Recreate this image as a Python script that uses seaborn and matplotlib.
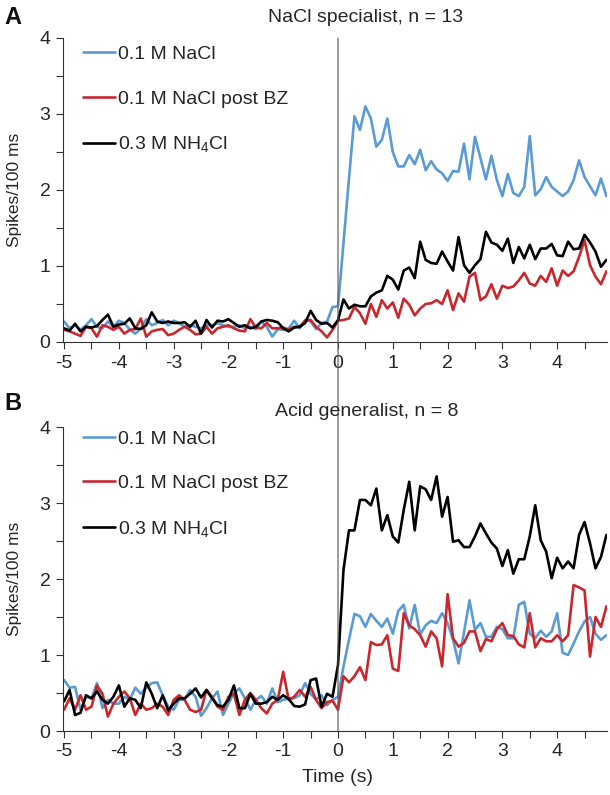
import numpy as np
import pandas as pd
import matplotlib
matplotlib.use("Agg")
import matplotlib.pyplot as plt
import seaborn as sns
from matplotlib.ticker import MultipleLocator
from matplotlib.patches import ConnectionPatch

# time bins (s), 100 ms bins from -5 to 4.9
time = np.round(np.arange(-50, 50) / 10, 1)

series_names = ["0.1 M NaCl", "0.1 M NaCl post BZ", "0.3 M NH$_4$Cl"]
colors = ["#5B9BD5", "#C8282D", "#000000"]

# Panel A: NaCl specialist, n = 13
a_nacl = [0.27, 0.18, 0.22, 0.16, 0.22, 0.30, 0.20, 0.18, 0.27, 0.20,
          0.28, 0.25, 0.16, 0.11, 0.18, 0.30, 0.22, 0.25, 0.29, 0.22,
          0.28, 0.25, 0.20, 0.22, 0.20,
          0.18, 0.22, 0.22, 0.25, 0.22, 0.20, 0.20, 0.22, 0.18, 0.20,
          0.17, 0.27, 0.20, 0.07, 0.17, 0.16, 0.18, 0.28, 0.18, 0.29,
          0.27, 0.17, 0.25, 0.27, 0.46, 0.47,
          1.30, 2.15, 2.97, 2.79, 3.10, 2.94, 2.57, 2.66, 2.94, 2.50,
          2.31, 2.31, 2.46, 2.34, 2.53, 2.26, 2.38, 2.27, 2.22, 2.12,
          2.25, 2.24, 2.61, 2.14,
          2.70, 2.42, 2.14, 2.45, 2.13, 1.92, 2.21, 1.96, 1.92, 2.04,
          2.71, 1.93, 2.01, 2.17, 2.04, 1.98, 1.92, 1.98, 2.13, 2.39,
          2.17, 2.05, 1.93, 2.15, 1.92]
a_nacl_bz = [0.16, 0.14, 0.11, 0.08, 0.20, 0.18, 0.07, 0.22, 0.20, 0.16,
             0.20, 0.11, 0.16, 0.17, 0.31, 0.07, 0.14, 0.16, 0.17, 0.09,
             0.11, 0.16, 0.20, 0.16, 0.10,
             0.11, 0.20, 0.11, 0.18, 0.20, 0.22, 0.18, 0.15, 0.14, 0.30,
             0.19, 0.18, 0.25, 0.18, 0.18, 0.19, 0.16, 0.20, 0.20, 0.28,
             0.29, 0.20, 0.14, 0.06, 0.16, 0.28,
             0.29, 0.31, 0.46, 0.38, 0.24, 0.50, 0.33, 0.55, 0.44, 0.52,
             0.32, 0.57, 0.49, 0.35, 0.44, 0.50, 0.51, 0.55, 0.50, 0.68,
             0.42, 0.64, 0.53, 0.86,
             0.91, 0.55, 0.60, 0.76, 0.57, 0.74, 0.71, 0.73, 0.81, 0.91,
             0.77, 0.74, 0.87, 0.79, 0.97, 0.74, 0.94, 0.87, 0.93, 1.12,
             1.34, 1.01, 0.86, 0.76, 0.93]
a_nh4cl = [0.18, 0.15, 0.24, 0.14, 0.20, 0.19, 0.21, 0.29, 0.36, 0.20,
           0.23, 0.24, 0.31, 0.18, 0.17, 0.22, 0.39, 0.27, 0.25, 0.27,
           0.25, 0.25, 0.26, 0.20, 0.28,
           0.11, 0.29, 0.19, 0.28, 0.27, 0.30, 0.25, 0.20, 0.22, 0.18,
           0.20, 0.27, 0.29, 0.28, 0.26, 0.18, 0.14, 0.19, 0.20, 0.25,
           0.41, 0.29, 0.24, 0.25, 0.19, 0.29,
           0.56, 0.44, 0.49, 0.47, 0.47, 0.60, 0.65, 0.68, 0.87, 0.82,
           0.69, 0.94, 0.98, 0.84, 1.32, 1.08, 1.04, 1.03, 1.19, 1.06,
           0.94, 1.38, 1.01, 0.91,
           1.01, 1.09, 1.45, 1.31, 1.28, 1.20, 1.36, 1.04, 1.25, 1.10,
           1.28, 1.09, 1.23, 1.23, 1.29, 1.14, 1.13, 1.32, 1.22, 1.23,
           1.41, 1.31, 1.19, 0.99, 1.08]

# Panel B: Acid generalist, n = 8
b_nacl = [0.67, 0.57, 0.58, 0.28, 0.45, 0.43, 0.63, 0.30, 0.41, 0.36,
          0.36, 0.45, 0.41, 0.57, 0.49, 0.57, 0.63, 0.64, 0.47, 0.32,
          0.28, 0.41, 0.41, 0.54, 0.45,
          0.20, 0.30, 0.43, 0.52, 0.21, 0.36, 0.50, 0.56, 0.43, 0.28,
          0.41, 0.46, 0.36, 0.56, 0.38, 0.41, 0.43, 0.43, 0.47, 0.63,
          0.49, 0.41, 0.47, 0.34, 0.41, 0.45,
          0.85, 1.20, 1.54, 1.51, 1.37, 1.54, 1.45, 1.37, 1.48, 1.28,
          1.58, 1.66, 1.35, 1.66, 1.27, 1.39, 1.45, 1.42, 1.55, 1.42,
          1.20, 0.89, 1.30, 1.72,
          1.33, 1.42, 1.24, 1.24, 1.37, 1.34, 1.22, 1.22, 1.66, 1.70,
          1.28, 1.22, 1.32, 1.24, 1.31, 1.55, 1.03, 1.00, 1.15, 1.31,
          1.44, 1.50, 1.28, 1.20, 1.26]
b_nacl_bz = [0.28, 0.43, 0.28, 0.47, 0.28, 0.32, 0.60, 0.49, 0.19, 0.36,
             0.45, 0.52, 0.43, 0.21, 0.36, 0.28, 0.30, 0.36, 0.32, 0.21,
             0.41, 0.47, 0.41, 0.28, 0.25,
             0.28, 0.54, 0.45, 0.32, 0.28, 0.45, 0.49, 0.21, 0.41, 0.50,
             0.41, 0.30, 0.23, 0.36, 0.41, 0.78, 0.41, 0.45, 0.54, 0.45,
             0.58, 0.41, 0.30, 0.38, 0.40, 0.28,
             0.72, 0.64, 0.72, 0.84, 0.67, 1.17, 1.13, 1.14, 1.26, 0.82,
             0.79, 1.55, 1.39, 1.34, 1.26, 1.11, 1.31, 1.22, 0.85, 1.80,
             1.22, 1.11, 1.16, 1.31,
             1.31, 1.05, 1.21, 1.18, 1.34, 1.42, 1.26, 1.25, 1.14, 1.10,
             1.55, 1.10, 1.22, 1.18, 1.18, 1.26, 1.18, 1.26, 1.92, 1.89,
             1.85, 0.98, 1.50, 1.37, 1.64]
b_nh4cl = [0.39, 0.54, 0.21, 0.24, 0.47, 0.43, 0.52, 0.41, 0.36, 0.45,
           0.60, 0.32, 0.43, 0.41, 0.30, 0.64, 0.49, 0.30, 0.47, 0.27,
           0.36, 0.43, 0.43, 0.49, 0.56,
           0.44, 0.54, 0.43, 0.34, 0.32, 0.41, 0.60, 0.30, 0.30, 0.49,
           0.36, 0.36, 0.38, 0.45, 0.41, 0.47, 0.42, 0.33, 0.32, 0.35,
           0.67, 0.69, 0.32, 0.49, 0.45, 0.87,
           2.12, 2.64, 2.64, 3.04, 3.04, 2.97, 3.19, 2.64, 2.84, 2.56,
           2.48, 2.91, 3.28, 2.64, 3.22, 3.18, 3.04, 3.35, 2.82, 3.08,
           2.49, 2.51, 2.42, 2.42,
           2.56, 2.73, 2.60, 2.48, 2.40, 2.17, 2.38, 2.07, 2.26, 2.26,
           2.56, 2.97, 2.51, 2.36, 2.01, 2.28, 2.14, 2.23, 2.14, 2.58,
           2.75, 2.47, 2.14, 2.29, 2.58]

panel_titles = ["NaCl specialist, n = 13", "Acid generalist, n = 8"]
panel_letters = ["A", "B"]

sns.set_style("ticks")
plt.rcParams["font.family"] = ["Liberation Sans", "DejaVu Sans"]
plt.rcParams["mathtext.default"] = "regular"
plt.rcParams["axes.unicode_minus"] = False

W, H = 610, 795
fig = plt.figure(figsize=(W / 100, H / 100), dpi=100)
axA = fig.add_axes([63 / W, 1 - 342 / H, 544 / W, 304 / H])
axB = fig.add_axes([63 / W, 1 - 731 / H, 544 / W, 304 / H])

# axes, series, legend anchor y
panels = [
    (axA, [a_nacl, a_nacl_bz, a_nh4cl], 0.975),
    (axB, [b_nacl, b_nacl_bz, b_nh4cl], 0.99),
]

text_color = "#262626"
fs = 14

for ax, values, leg_y in panels:
    df = pd.DataFrame({
        "time": np.tile(time, 3),
        "rate": np.concatenate(values),
        "series": np.repeat(series_names, len(time)),
    })
    sns.lineplot(data=df, x="time", y="rate", hue="series",
                 hue_order=series_names, palette=colors, estimator=None,
                 linewidth=1.9, ax=ax)
    ax.set_xlim(-5.02, 4.91)
    ax.set_ylim(0, 4)
    ax.xaxis.set_major_locator(MultipleLocator(1))
    ax.xaxis.set_minor_locator(MultipleLocator(0.5))
    ax.yaxis.set_major_locator(MultipleLocator(1))
    ax.yaxis.set_minor_locator(MultipleLocator(0.5))
    ax.tick_params(which="both", direction="out", length=5, width=0.8,
                   color="#333333")
    ax.tick_params(which="major", labelsize=fs, labelcolor=text_color, pad=4)
    for s in ["top", "right"]:
        ax.spines[s].set_visible(False)
    for s in ["left", "bottom"]:
        ax.spines[s].set_linewidth(0.8)
        ax.spines[s].set_color("#333333")
    ax.set_ylabel("Spikes/100 ms", fontsize=12.5, color=text_color)
    ax.yaxis.set_label_coords(-0.075, 0.5)
    ax.set_xlabel("")
    handles, labels = ax.get_legend_handles_labels()
    ax.legend(handles, labels, loc="upper left",
              bbox_to_anchor=(0.037, leg_y), borderaxespad=0, borderpad=0,
              handlelength=1.65, handletextpad=0.12, labelspacing=1.38,
              frameon=False, fontsize=fs, labelcolor=text_color)

axB.set_xlabel("Time (s)", fontsize=fs, color=text_color)
axB.xaxis.set_label_coords(0.505, -0.125)

# titles and panel letters
fig.text(366 / W, 1 - 18 / H, panel_titles[0], ha="center", va="center",
         fontsize=fs, color=text_color)
fig.text(367 / W, 1 - 411 / H, panel_titles[1], ha="center", va="center",
         fontsize=fs, color=text_color)
fig.text(13 / W, 1 - 17 / H, panel_letters[0], ha="center", va="center",
         fontsize=17, fontweight="bold", color="#111111")
fig.text(13 / W, 1 - 404 / H, panel_letters[1], ha="center", va="center",
         fontsize=17, fontweight="bold", color="#111111")

# stimulus onset line running through both panels
con = ConnectionPatch(xyA=(0, 4), coordsA=axA.transData,
                      xyB=(0, 0), coordsB=axB.transData,
                      color="#555555", linewidth=0.8)
fig.add_artist(con)

fig.savefig("out.png", dpi=100)
